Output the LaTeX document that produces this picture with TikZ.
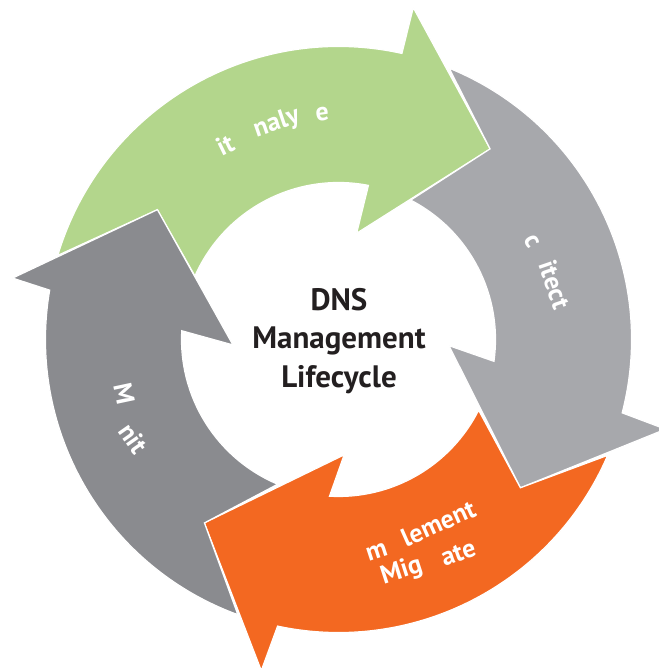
\documentclass[tikz,border=0pt]{standalone}
\usepackage{fontspec}
\setmainfont{PT Sans}
\usetikzlibrary{calc}

\definecolor{auditgreen}{RGB}{179,214,140}
\definecolor{archgray}{RGB}{167,168,172}
\definecolor{implorange}{RGB}{243,104,33}
\definecolor{mongray}{RGB}{138,139,143}
\definecolor{hubtext}{RGB}{35,31,32}

\def\Rout{293}
\def\Rin{157}

\tikzset{
	ringpart/.style={draw=white, line width=1.2pt, line join=miter},
	steplabel/.style={text=white, inner sep=0pt, font=\fontsize{26}{30}\selectfont\bfseries},
}

\begin{document}
\begin{tikzpicture}[x=1pt, y=1pt]
			%%%%% START %%%%%
			\useasboundingbox (-338.5,-331.5) rectangle (319.5,339.5);
			
			% heads: outer corner, tip, inner corner
			\coordinate (audbo) at (74.8,331.8);
			\coordinate (audtip) at (151.6,190.6);
			\coordinate (audbi) at (18.2,106.3);
			
			\coordinate (arcbo) at (327,-89.7);
			\coordinate (arctip) at (181.9,-148.3);
			\coordinate (arcbi) at (110.5,-6.2);
			
			\coordinate (impbo) at (-77.2,-331.0);
			\coordinate (imptip) at (-134.1,-183.4);
			\coordinate (impbi) at (5.6,-115.4);
			
			\coordinate (monbo) at (-325.9,61.4);
			\coordinate (montip) at (-181.1,129.8);
			\coordinate (monbi) at (-105.6,-5.4);
			
			% audit / analyze
			\fill[auditgreen, ringpart] (montip) -- (163.3:\Rout) arc[start angle=163.3, end angle=77.5, radius=\Rout]
				-- (audbo) -- (audtip) -- (audbi) -- (79.0:\Rin) arc[start angle=79.0, end angle=156.1, radius=\Rin] -- cycle;
			
			% architect
			\fill[archgray, ringpart] (audtip) -- (67.8:\Rout) arc[start angle=67.8, end angle=-14.5, radius=\Rout]
				-- (arcbo) -- (arctip) -- (arcbi) -- (-8.0:\Rin) arc[start angle=-8.0, end angle=62.6, radius=\Rin] -- cycle;
			
			% implement / migrate
			\fill[implorange, ringpart] (arctip) -- (-23.3:\Rout) arc[start angle=-23.3, end angle=-102.0, radius=\Rout]
				-- (impbo) -- (imptip) -- (impbi) -- (-93.3:\Rin) arc[start angle=-93.3, end angle=-26.8, radius=\Rin] -- cycle;
			
			% monitor
			\fill[mongray, ringpart] (imptip) -- (249.9:\Rout) arc[start angle=249.9, end angle=170.3, radius=\Rout]
				-- (monbo) -- (montip) -- (monbi) -- (176.8:\Rin) arc[start angle=176.8, end angle=247.2, radius=\Rin] -- cycle;
			
			% labels
			\node[steplabel, rotate=26] (aud1) at (-113.5,194.5) {it};
			\node[steplabel, rotate=19] (aud2) at (-61.8,216.2) {naly};
			\node[steplabel, rotate=8] (aud3) at (-16.2,225.2) {e};
			
			\node[steplabel, rotate=-62] (arc1) at (193.2,97.8) {c};
			\node[steplabel, rotate=-71] (arc2) at (216.3,54.9) {itect};
			
			\node[steplabel, rotate=18] (imp1) at (38.2,-212.2) {m};
			\node[steplabel, rotate=24] (imp2) at (99.8,-183.8) {lement};
			\node[steplabel, rotate=18] (imp3) at (63.2,-232.2) {Mig};
			\node[steplabel, rotate=20] (imp4) at (119.8,-213.8) {ate};
			
			\node[steplabel, rotate=-78] (mon1) at (-214.2,-53.8) {M};
			\node[steplabel, rotate=-55] (mon2) at (-205.2,-98.8) {nit};
			
			\node[text=hubtext, align=center, font=\fontsize{31}{38.5}\selectfont\bfseries] (hub) at (0.5,-1.5) {DNS\\Management\\Lifecycle};
			
			%%%%% END %%%%%
\end{tikzpicture}
\end{document}
